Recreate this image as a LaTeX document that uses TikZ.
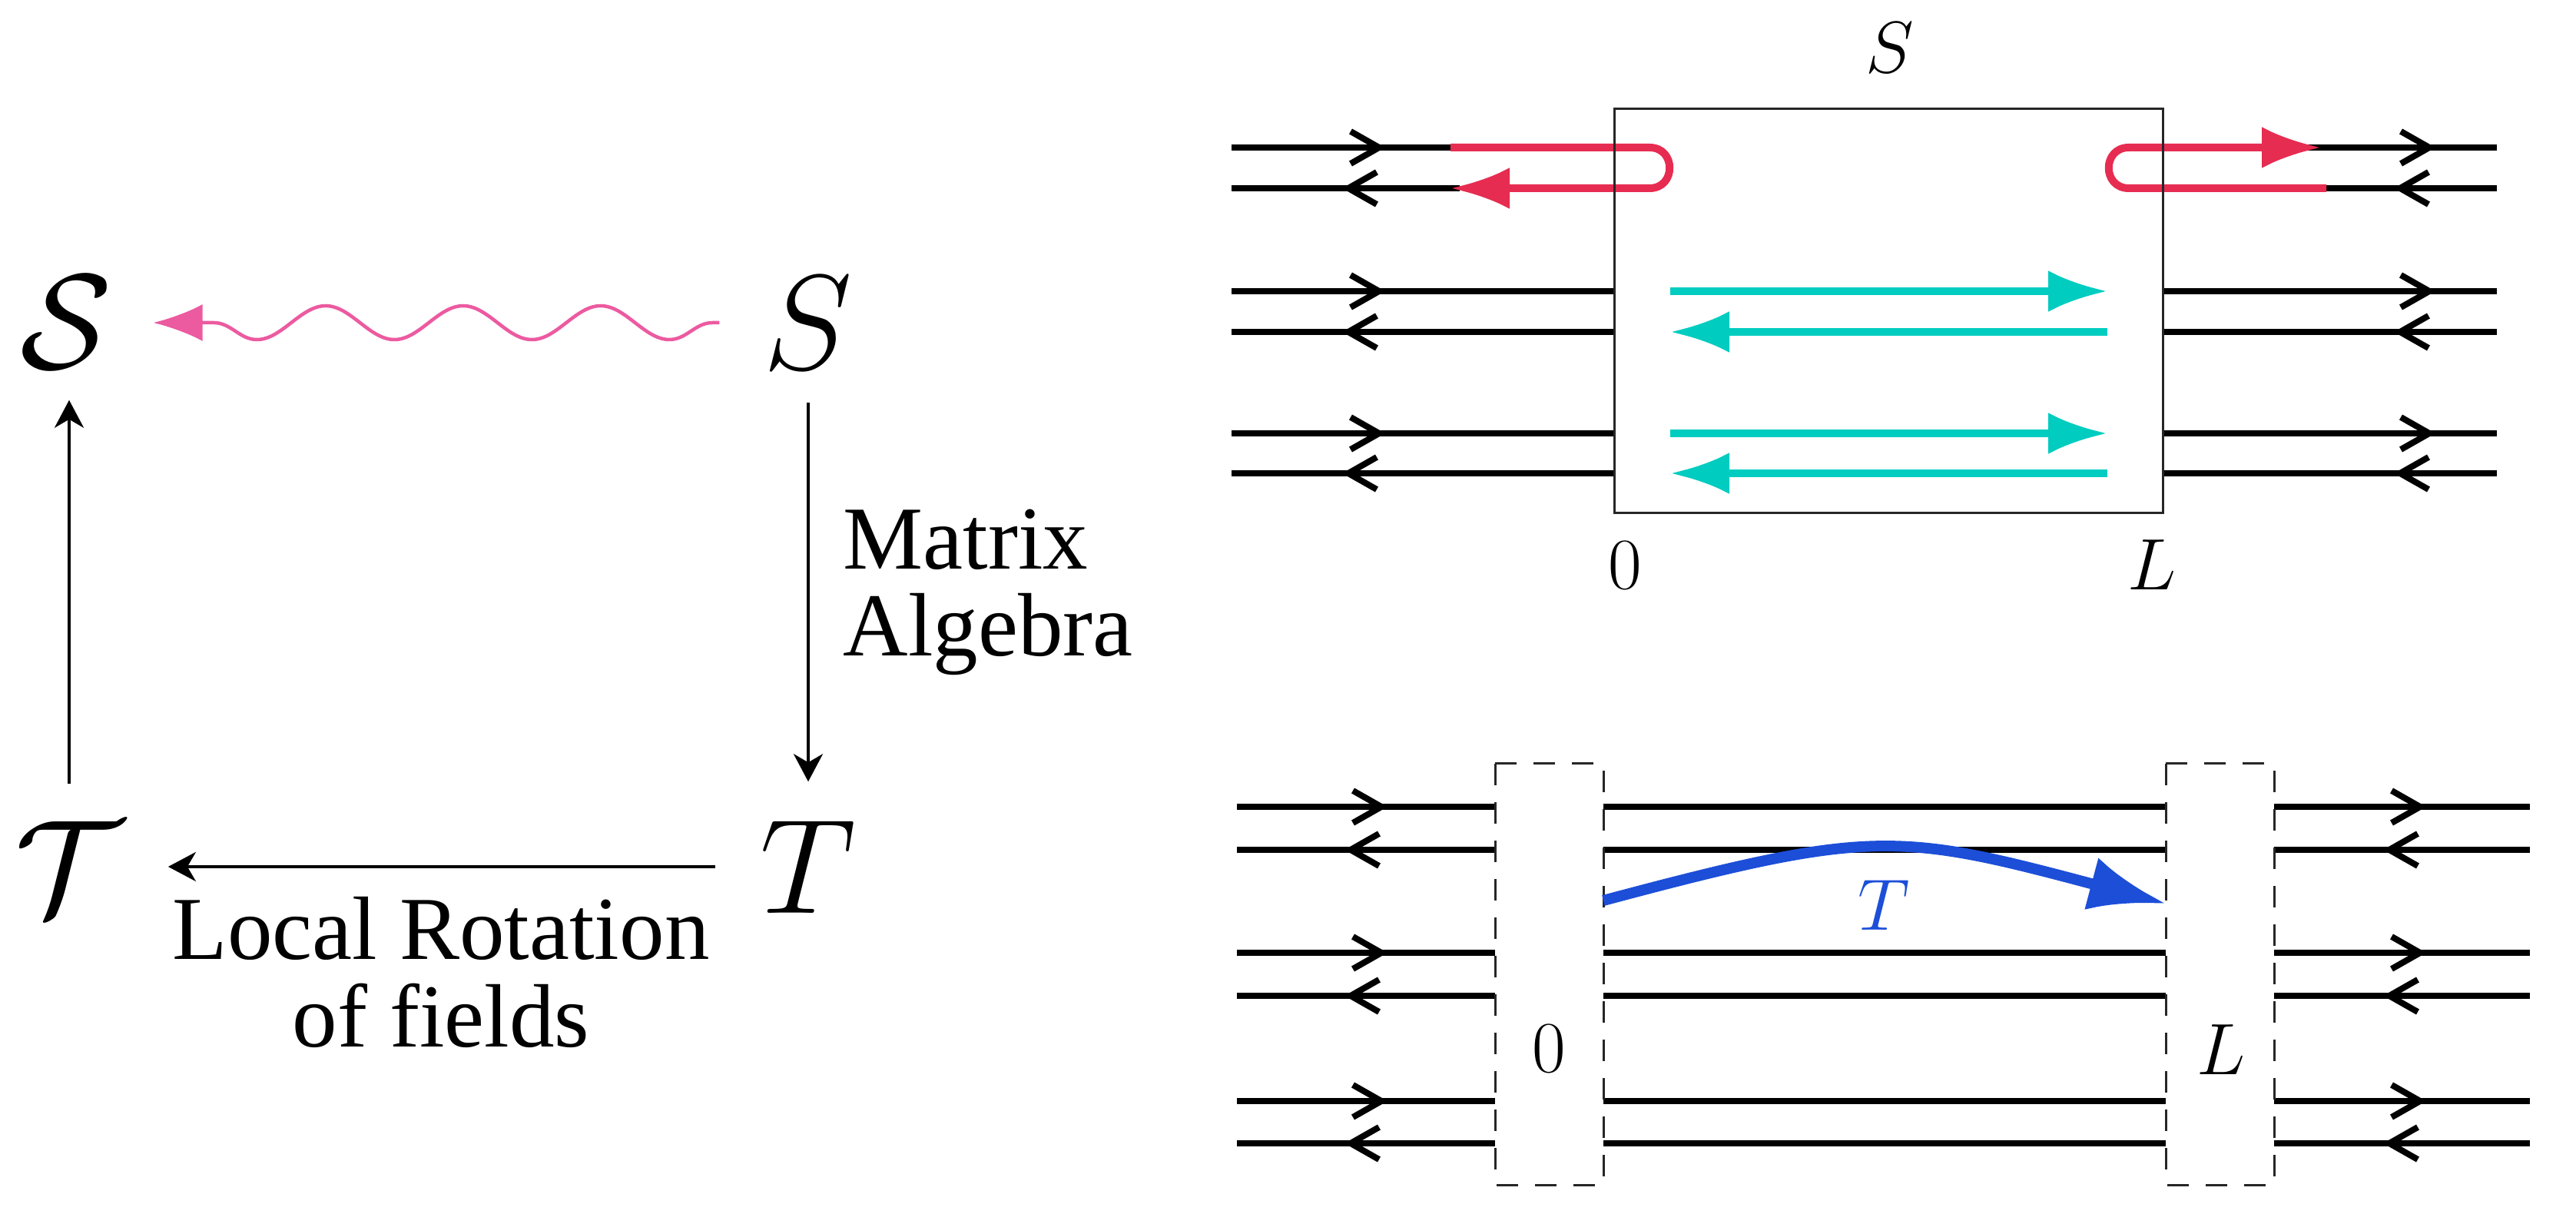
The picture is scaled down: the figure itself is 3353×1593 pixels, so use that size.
\RequirePackage{fix-cm}
\documentclass[tikz,border=0pt]{standalone}
\usepackage{fontspec}
\setmainfont{Liberation Serif}
\newfontfamily\txtfont{Liberation Serif}
\usetikzlibrary{arrows.meta,decorations.pathmorphing}
\definecolor{myred}{RGB}{231,44,81}
\definecolor{mycyan}{RGB}{0,204,192}
\definecolor{myblue}{RGB}{28,78,216}
\definecolor{mypink}{RGB}{236,90,160}
\newcommand\chevR[2]{\draw[chevron] ({#1-37},{#2-21}) -- (#1,#2) -- ({#1-37},{#2+21});}
\newcommand\chevL[2]{\draw[chevron] ({#1+37},{#2-21}) -- (#1,#2) -- ({#1+37},{#2+21});}
\begin{document}
\begin{tikzpicture}[x=0.1mm,y=-0.1mm,
  fline/.style={line width=0.85mm, black},
  chevron/.style={line width=0.8mm, line cap=butt, line join=miter, black},
  redline/.style={line width=1.0mm, myred},
  cyanline/.style={line width=1.0mm, mycyan},
  boxline/.style={line width=0.3mm, black!85},
  dashbox/.style={line width=0.3mm, black!85, dash pattern=on 2.8mm off 2.2mm},
  thinarrow/.style={line width=0.4mm, -{Stealth[length=3.6mm, width=3.8mm, inset=1.1mm]}},
  bigmath/.style={font=\fontsize{50}{60}\selectfont, inner sep=0pt},
  labmath/.style={font=\fontsize{27}{32}\selectfont, inner sep=0pt},
  txt/.style={font=\txtfont\fontsize{33.3}{32.2}\selectfont, inner sep=0pt},
  bighead/.style={-{Latex[length=7.7mm, width=5.4mm]}}
]
\useasboundingbox (0,0) rectangle (3353,1593);

% ---------------- left panel ----------------
\node[bigmath] (cS) at (86,419) {$\mathcal{S}$};
\node[bigmath] (S) at (1052,420) {$S$};
\node[bigmath] (T) at (1052,1128) {$T$};
\node[bigmath] (cT) at (90,1129) {$\mathcal{T}$};

\draw[thinarrow] ([yshift=-4.3mm]S.south) -- ([yshift=5mm]S.south |- T.north);
\draw[thinarrow] ([yshift=4.8mm]cT.north) -- ([yshift=-4.1mm]cT.north |- cS.south);
\draw[thinarrow] ([xshift=-5.8mm]T.west) -- ([xshift=5.8mm]T.west -| cT.east);
\draw[mypink, line width=0.45mm, -{Latex[length=6.4mm, width=4.8mm]},
  decorate, decoration={snake, amplitude=2.2mm, segment length=17.9mm,
  pre length=0.9mm, post length=1.4mm}]
  ([xshift=-5.7mm]S.west) -- ([xshift=5.3mm]S.west -| cS.east);

\node[txt, anchor=north west, align=left] (mat) at (1097,662) {Matrix\\Algebra};
\node[txt, anchor=north, align=center] (loc) at (574,1167) {Local Rotation\\of fields};

% ---------------- top right panel ----------------
\foreach \yy in {379,432,564,616} {\draw[fline] (1603,\yy) -- (2101,\yy);}
\draw[fline] (1603,192) -- (1890,192);
\draw[fline] (1603,245) -- (1900,245);
\foreach \yy in {379,432,564,616} {\draw[fline] (2815,\yy) -- (3250,\yy);}
\draw[fline] (3000,192) -- (3250,192);
\draw[fline] (3020,245) -- (3250,245);
\foreach \yy in {192,379,564} {\chevR{1795}{\yy} \chevR{3162}{\yy}}
\foreach \yy in {245,432,616} {\chevL{1755}{\yy} \chevL{3124}{\yy}}
\draw[redline, bighead] (1888,192) -- (2147,192) .. controls (2182,192) and (2182,245) .. (2147,245) -- (1888,245);
\draw[redline, bighead] (3028,245) -- (2771,245) .. controls (2736,245) and (2736,192) .. (2771,192) -- (3021,192);
\draw[cyanline, bighead] (2174,379) -- (2743,379);
\draw[cyanline, bighead] (2743,432) -- (2174,432);
\draw[cyanline, bighead] (2174,564) -- (2743,564);
\draw[cyanline, bighead] (2743,616) -- (2174,616);
\draw[boxline] (2101,142) rectangle (2815,668);
\node[labmath] (lS) at (2460,62) {$S$};
\node[labmath] (l0a) at (2115,736) {$0$};
\node[labmath] (lLa) at (2801,735) {$L$};

% ---------------- bottom right panel ----------------
\foreach \yy in {1050,1106,1240,1296,1433,1488} {
  \draw[fline] (1610,\yy) -- (1946,\yy);
  \draw[fline] (2087,\yy) -- (2819,\yy);
  \draw[fline] (2960,\yy) -- (3293,\yy);
}
\foreach \yy in {1050,1240,1433} {\chevR{1798}{\yy} \chevR{3150}{\yy}}
\foreach \yy in {1106,1296,1488} {\chevL{1758}{\yy} \chevL{3110}{\yy}}
\draw[dashbox] (1946,994) rectangle (2087,1542);
\draw[dashbox] (2819,994) rectangle (2960,1542);
\draw[myblue, line width=1.4mm, -{Latex[length=10mm, width=7mm]}]
  (2087,1172) .. controls (2435,1079) and (2471,1083) .. (2819,1176);
\node[labmath, text=myblue] (lT) at (2452,1178) {$T$};
\node[labmath] (l0b) at (2016,1365) {$0$};
\node[labmath] (lLb) at (2891,1366) {$L$};
\end{tikzpicture}
\end{document}
